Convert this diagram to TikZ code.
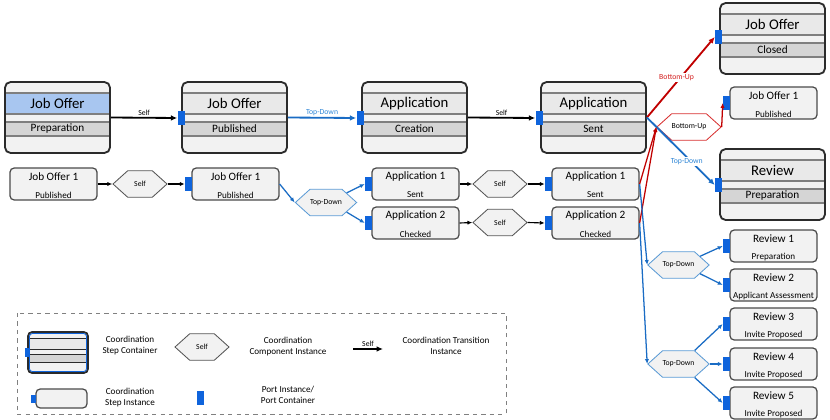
\documentclass[tikz,border=0pt]{standalone}
\usepackage{fontspec}
\setmainfont{Carlito}
\usetikzlibrary{arrows.meta,shapes.symbols}

\definecolor{portblue}{HTML}{0F64DC}
\definecolor{boxline}{HTML}{2B2B2B}
\definecolor{bandline}{HTML}{7F7F7F}
\definecolor{cbg}{HTML}{F2F2F2}
\definecolor{ctband}{HTML}{E9E9E9}
\definecolor{csband}{HTML}{D5D5D5}
\definecolor{titleblue}{HTML}{A8C6F0}
\definecolor{tdblue}{HTML}{1A6CC4}
\definecolor{tdtext}{HTML}{2F86D6}
\definecolor{hexblue}{HTML}{5B9BD5}
\definecolor{burred}{HTML}{C00000}
\definecolor{butext}{HTML}{D42020}
\definecolor{hexred}{HTML}{D83030}

\tikzset{
  cbox/.style={draw=boxline, line width=1.3pt, rounded corners=4pt, minimum width=2.625cm, minimum height=1.775cm, inner sep=0pt},
  ctitle/.style={font=\fontsize{10.5}{12}\selectfont, inner sep=0pt},
  cstatus/.style={font=\fontsize{8}{9}\selectfont, inner sep=0pt},
  sbox/.style={draw=boxline!85, line width=0.9pt, fill=cbg, rounded corners=3pt, minimum width=2.175cm, minimum height=0.8cm, inner sep=0pt},
  stitle/.style={font=\fontsize{8}{9}\selectfont, inner sep=0pt},
  sstatus/.style={font=\fontsize{6.5}{7}\selectfont, inner sep=0pt},
  port/.style={fill=portblue, minimum width=0.175cm, minimum height=0.35cm, inner sep=0pt},
  hexa/.style={signal, signal to=east and west, signal pointer angle=84, draw=boxline!80, fill=cbg, line width=0.6pt, minimum width=1.35cm, minimum height=0.66cm, inner sep=0pt, font=\fontsize{5.5}{6}\selectfont},
  hexblu/.style={hexa, draw=hexblue},
  hexrd/.style={hexa, draw=hexred, fill=white},
  lbl/.style={font=\fontsize{5.5}{6}\selectfont, inner sep=1pt},
  selfarr/.style={line width=1.3pt, -{Latex[length=4.5pt,width=4pt]}},
  tdarr/.style={tdblue, line width=1.3pt, -{Latex[length=4.5pt,width=4pt]}},
  buarr/.style={burred, line width=1.3pt, -{Latex[length=4.5pt,width=4pt]}},
  thinarr/.style={line width=0.8pt, -{Latex[length=3.5pt,width=3pt]}},
  tdthin/.style={tdblue, line width=0.9pt, -{Latex[length=3.5pt,width=3pt]}},
  buthin/.style={burred, line width=0.9pt, -{Latex[length=3.5pt,width=3pt]}},
  legtext/.style={font=\fontsize{6.5}{7.8}\selectfont, align=center, inner sep=0pt}
}

% coordination step container: name, left, top, title, status, title fill
\newcommand{\stepcontainer}[6]{%
  \begin{scope}[shift={(#2,#3)}]
    \begin{scope}
      \clip[rounded corners=4pt] (0,0) rectangle (105,71);
      \fill[cbg] (0,0) rectangle (105,71);
      \fill[#6] (0,11) rectangle (105,32);
      \fill[csband] (0,40) rectangle (105,54);
      \draw[bandline, line width=0.9pt] (0,11) -- (105,11) (0,32) -- (105,32) (0,40) -- (105,40) (0,54) -- (105,54);
    \end{scope}
    \node[ctitle] at (52.5,21.5) {#4};
    \node[cstatus] at (52.5,47) {#5};
    \node[cbox] (#1) at (52.5,35.5) {};
  \end{scope}}

% coordination step instance: name, left, top, title, status
\newcommand{\stepinstance}[5]{%
  \node[sbox] (#1) at (#2+43.5,#3+16) {};
  \node[stitle] at (#2+43.5,#3+9) {#4};
  \node[sstatus] at (#2+43.5,#3+27) {#5};}

\begin{document}
\begin{tikzpicture}[x=0.025cm, y=-0.025cm]
  \useasboundingbox (0,0) rectangle (830,420);

  % containers
  \stepcontainer{c1}{5}{82}{Job Offer}{Preparation}{titleblue}
  \stepcontainer{c2}{182}{82}{Job Offer}{Published}{ctband}
  \stepcontainer{c3}{362}{82}{Application}{Creation}{ctband}
  \stepcontainer{c4}{541}{82}{Application}{Sent}{ctband}
  \stepcontainer{c5}{720}{3}{Job Offer}{Closed}{ctband}
  \stepcontainer{c6}{720}{149}{Review}{Preparation}{ctband}

  % step instances
  \stepinstance{s1}{10}{168}{Job Offer 1}{Published}
  \stepinstance{s2}{192}{168}{Job Offer 1}{Published}
  \stepinstance{a1}{372}{168}{Application 1}{Sent}
  \stepinstance{a2}{372}{207}{Application 2}{Checked}
  \stepinstance{a3}{552}{168}{Application 1}{Sent}
  \stepinstance{a4}{552}{207}{Application 2}{Checked}
  \stepinstance{j2}{730}{87}{Job Offer 1}{Published}
  \stepinstance{r1}{730}{230}{Review 1}{Preparation}
  \stepinstance{r2}{730}{269}{Review 2}{Applicant Assessment}
  \stepinstance{r3}{730}{308}{Review 3}{Invite Proposed}
  \stepinstance{r4}{730}{348}{Review 4}{Invite Proposed}
  \stepinstance{r5}{730}{387}{Review 5}{Invite Proposed}

  % component instances
  \node[hexa] (h1) at (140,184) {Self};
  \node[hexblu] (td1) at (326,202.5) {Top-Down};
  \node[hexa] (h2) at (500,184) {Self};
  \node[hexa] (h3) at (500,222.5) {Self};
  \node[hexrd] (bu) at (689,127) {Bottom-Up};
  \node[hexblu] (td2) at (678.5,265) {Top-Down};
  \node[hexblu] (td3) at (678.5,364) {Top-Down};

  % ports
  \node[port] (c2p) at (181,118) {};
  \node[port] (c3p) at (360,118) {};
  \node[port] (c4p) at (539,118) {};
  \node[port] (c5p) at (718.5,37) {};
  \node[port] (c6p) at (718.5,185) {};
  \node[port] (s2p) at (188.5,184) {};
  \node[port] (a1p) at (368.5,184) {};
  \node[port] (a2p) at (368.5,223) {};
  \node[port] (a3p) at (548.5,184) {};
  \node[port] (a4p) at (548.5,223) {};
  \node[port] (j2p) at (726.5,103) {};
  \foreach \r/\yy in {r1/246, r2/285, r3/324, r4/364, r5/403}
    \node[port] (\r p) at (726.5,\yy) {};

  % transitions between containers
  \draw[selfarr] (c1.east) -- node[lbl, above] {Self} (c2p.west);
  \draw[tdarr] (c2.east) -- node[lbl, above, text=tdtext] {Top-Down} (c3p.west);
  \draw[selfarr] (c3.east) -- node[lbl, above] {Self} (c4p.west);
  \draw[buarr] (c4.east) -- node[lbl, fill=white, text=butext, xshift=-3pt] {Bottom-Up} (c5p.west);
  \draw[tdarr] (c4.east) -- node[lbl, fill=white, text=tdtext, pos=0.65, xshift=-3pt] {Top-Down} (c6p.west);

  % transitions between instances
  \draw[thinarr] (s1.east) -- (h1.west);
  \draw[thinarr] (h1.east) -- (s2p.west);
  \draw[tdthin] (s2.east) -- (td1.west);
  \draw[tdthin] (td1.25) -- (a1p.west);
  \draw[tdthin] (td1.-25) -- (a2p.west);
  \draw[thinarr] (a1.east) -- (h2.west);
  \draw[thinarr] (h2.east) -- (a3p.west);
  \draw[thinarr] (a2.east) -- (h3.west);
  \draw[thinarr] (h3.east) -- (a4p.west);
  \draw[buthin] (a3.east) -- (bu.west);
  \draw[buthin] (a4.east) -- (bu.west);
  \draw[buthin] (bu.east) -- (j2p.west);
  \draw[tdthin] (a3.east) -- (td2.west);
  \draw[tdthin] (a4.east) -- (td3.west);
  \draw[tdthin] (td2.22) -- (r1p.west);
  \draw[tdthin] (td2.-22) -- (r2p.west);
  \draw[tdthin] (td3.40) -- (r3p.west);
  \draw[tdthin] (td3.east) -- (r4p.west);
  \draw[tdthin] (td3.-40) -- (r5p.west);

  % legend
  \draw[gray, dashed, line width=0.5pt] (17,313) rectangle (506,414);
  \begin{scope}
    \clip[rounded corners=3pt] (28,332) rectangle (88,373);
    \fill[cbg] (28,332) rectangle (88,373);
    \fill[ctband] (28,338) rectangle (88,349);
    \fill[csband] (28,354) rectangle (88,362);
    \draw[boxline, line width=0.7pt] (28,338) -- (88,338) (28,349) -- (88,349) (28,354) -- (88,354) (28,362) -- (88,362);
  \end{scope}
  \node[cbox, minimum width=1.5cm, minimum height=1.025cm, rounded corners=3pt] (lc) at (58,352.5) {};
  \draw[portblue, line width=0.6pt, rounded corners=2pt] (29.5,333.5) rectangle (86.5,371.5);
  \node[port, minimum width=0.1cm, minimum height=0.22cm] (lcp) at (27.5,352.5) {};
  \node[legtext] (lct) at (130,346) {Coordination\\Step Container};
  \node[hexa] (lh) at (202,347) {Self};
  \node[legtext] (lht) at (288,347) {Coordination\\Component Instance};
  \coordinate (lgA) at (353,349);
  \coordinate (lgB) at (383,349);
  \draw[selfarr] (lgA) -- node[lbl, above] {Self} (lgB);
  \node[legtext] (ltt) at (446,346) {Coordination Transition\\Instance};
  \node[sbox, minimum width=1.275cm, minimum height=0.475cm] (ls) at (61.5,398.5) {};
  \node[port, minimum width=0.125cm, minimum height=0.2cm] (lsp) at (33.5,399) {};
  \node[legtext] (lst) at (130,398) {Coordination\\Step Instance};
  \node[port] (lp) at (200.5,397.5) {};
  \node[legtext] (lpt) at (288,395) {Port Instance/\\Port Container};
\end{tikzpicture}
\end{document}
